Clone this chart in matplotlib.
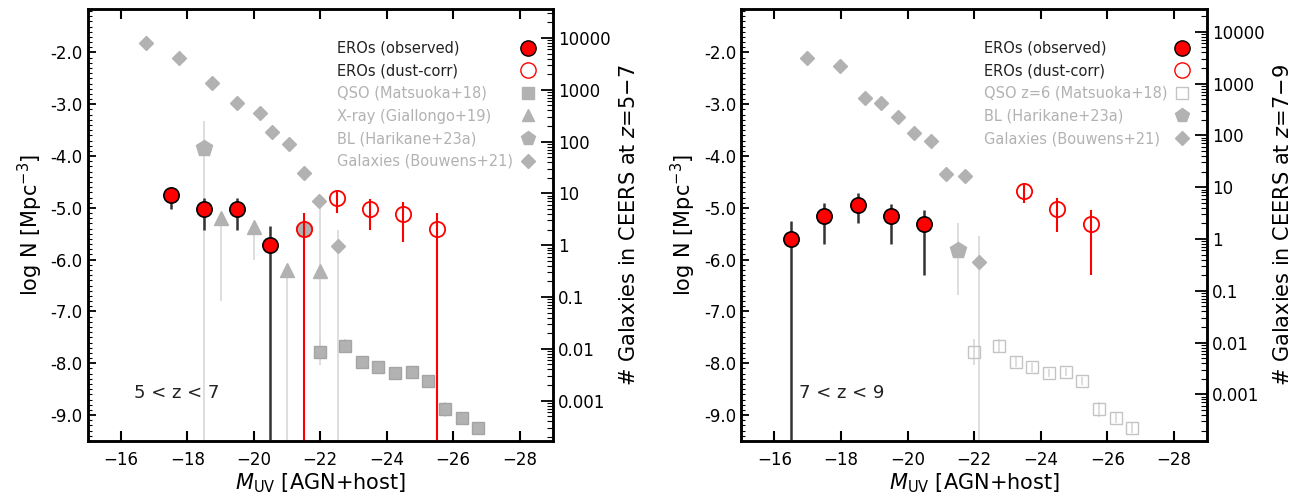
import numpy as np
import matplotlib
matplotlib.use("Agg")
import matplotlib.pyplot as plt
from matplotlib.lines import Line2D
from matplotlib.ticker import MultipleLocator, FormatStrFormatter, FuncFormatter, LogLocator

# EROs at 5<z<7: observed and dust-corrected (y = log N, lo/hi = error-bar ends)
obs5_x = [-17.5, -18.5, -19.5, -20.5]
obs5_y = [-4.75, -5.02, -5.02, -5.72]
obs5_lo = [-5.02, -5.42, -5.42, -10.0]
obs5_hi = [-4.62, -4.81, -4.81, -5.35]

dust5_x = [-21.5, -22.5, -23.5, -24.5, -25.5]
dust5_y = [-5.41, -4.80, -5.02, -5.11, -5.41]
dust5_lo = [-10.0, -5.10, -5.42, -5.65, -10.0]
dust5_hi = [-5.10, -4.65, -4.83, -4.89, -5.10]

# literature at 5<z<7
xray5_x = [-19.0, -20.0, -21.0, -22.0]
xray5_y = [-5.20, -5.37, -6.20, -6.22]
xray5_lo = [-6.80, -6.00, -10.0, -7.70]
xray5_hi = [-5.20, -5.37, -6.20, -4.95]

bl5_x = [-18.5, -21.5]
bl5_y = [-3.84, -5.41]
bl5_lo = [-10.0, -5.41]
bl5_hi = [-3.32, -5.41]

gal5_x = [-16.75, -17.75, -18.75, -19.5, -20.2, -20.55, -21.05, -21.5, -21.95, -22.52]
gal5_y = [-1.81, -2.10, -2.58, -2.98, -3.17, -3.53, -3.77, -4.32, -4.87, -5.73]
gal5_lo = [-1.81, -2.10, -2.58, -2.98, -3.17, -3.53, -3.77, -4.32, -4.87, -10.0]
gal5_hi = [-1.81, -2.10, -2.58, -2.98, -3.17, -3.53, -3.77, -4.32, -4.87, -5.42]

# Matsuoka+18 z~6 quasars (same in both panels)
qso_x = [-22.0, -22.75, -23.25, -23.75, -24.25, -24.75, -25.25, -25.75, -26.25, -26.75]
qso_y = [-7.79, -7.66, -7.97, -8.08, -8.19, -8.17, -8.34, -8.89, -9.06, -9.24]
qso_err = [0.25, 0.12, 0.10, 0.08, 0.08, 0.08, 0.08, 0.15, 0.10, 0.10]

# EROs at 7<z<9
obs7_x = [-16.5, -17.5, -18.5, -19.5, -20.5]
obs7_y = [-5.60, -5.16, -4.94, -5.16, -5.31]
obs7_lo = [-10.0, -5.69, -5.29, -5.70, -6.30]
obs7_hi = [-5.26, -4.90, -4.71, -4.92, -5.05]

dust7_x = [-23.5, -24.5, -25.5]
dust7_y = [-4.67, -5.02, -5.31]
dust7_lo = [-4.91, -5.46, -6.30]
dust7_hi = [-4.53, -4.81, -5.04]

bl7_x = [-21.5]
bl7_y = [-5.81]
bl7_lo = [-6.68]
bl7_hi = [-5.29]

gal7_x = [-16.98, -17.96, -18.71, -19.21, -19.71, -20.19, -20.71, -21.16, -21.71, -22.15]
gal7_y = [-2.10, -2.27, -2.87, -2.97, -3.24, -3.56, -3.71, -4.34, -4.39, -6.04]
gal7_lo = [-2.10, -2.27, -2.87, -2.97, -3.24, -3.56, -3.71, -4.34, -4.39, -10.0]
gal7_hi = [-2.10, -2.27, -2.87, -2.97, -3.24, -3.56, -3.71, -4.34, -4.39, -5.55]

# log of survey volume (Mpc^3) linking log N to galaxy counts
logvol5 = 5.72
logvol7 = 5.60

RED = "#ff0000"
GRAY = "#b2b2b2"
ERRGRAY = "#d8d8d8"
YLIM = (-9.5, -1.16)
XLIM = (-15, -29)


def yerr(y, lo, hi):
    y = np.array(y)
    return [y - np.array(lo), np.array(hi) - y]


def style_axes(ax, logvol, zlabel):
    ax.set_xlim(XLIM)
    ax.set_ylim(YLIM)
    ax.xaxis.set_major_locator(MultipleLocator(2))
    ax.yaxis.set_major_locator(MultipleLocator(1))
    ax.yaxis.set_minor_locator(MultipleLocator(0.1))
    ax.yaxis.set_major_formatter(FormatStrFormatter("%.1f"))
    ax.tick_params(axis="x", which="major", direction="in", top=True, length=7, width=1.5, labelsize=12, pad=7)
    ax.tick_params(axis="y", which="major", direction="in", right=False, length=6, width=1.3, labelsize=12)
    ax.tick_params(axis="y", which="minor", direction="in", right=False, length=3, width=0.8)
    for s in ax.spines.values():
        s.set_linewidth(1.8)
    ax.set_xlabel(r"$M_{\rm UV}$ [AGN+host]", fontsize=15, labelpad=2)
    ax.set_ylabel(r"log N [Mpc$^{-3}$]", fontsize=15)
    ax.xaxis.offsetText.set_visible(False)

    ax2 = ax.twinx()
    ax2.set_yscale("log")
    ax2.set_ylim(10 ** (YLIM[0] + logvol), 10 ** (YLIM[1] + logvol))
    ax2.yaxis.set_major_locator(LogLocator(base=10, numticks=20))
    ax2.yaxis.set_minor_locator(LogLocator(base=10, subs=np.arange(2, 10), numticks=20))
    ax2.yaxis.set_major_formatter(FuncFormatter(lambda v, p: "%g" % v))
    ax2.tick_params(axis="y", which="major", direction="in", length=9, width=1.3, labelsize=12)
    ax2.tick_params(axis="y", which="minor", direction="in", length=4, width=0.8)
    ax2.set_ylabel(r"# Galaxies in CEERS at $z$=" + zlabel, fontsize=15, labelpad=6)
    ax2.xaxis.offsetText.set_visible(False)
    for s in ax2.spines.values():
        s.set_linewidth(1.8)
    return ax2


def gray_err(ax, x, y, lo, hi, marker, ms, face=GRAY, edge=GRAY):
    ax.errorbar(x, y, yerr=yerr(y, lo, hi), fmt=marker, ms=ms, mfc=face, mec=edge,
                ecolor=ERRGRAY, elinewidth=1.2, capsize=0, zorder=2)


def ero_points(ax, ox, oy, olo, ohi, dx, dy, dlo, dhi):
    ax.errorbar(dx, dy, yerr=yerr(dy, dlo, dhi), fmt="o", ms=11, mfc="none", mec=RED, mew=1.3,
                ecolor=RED, elinewidth=1.5, capsize=0, zorder=5)
    ax.errorbar(ox, oy, yerr=yerr(oy, olo, ohi), fmt="o", ms=11, mfc=RED, mec="black", mew=1.2,
                ecolor="#333333", elinewidth=1.8, capsize=0, zorder=6)


def add_legend(ax, handles, labels, ngood):
    leg = ax.legend(handles, labels, loc="upper right", bbox_to_anchor=(0.983, 0.95), frameon=False,
                    markerfirst=False, fontsize=10.5, handlelength=1.0, handletextpad=0.5,
                    labelspacing=0.52, borderaxespad=0.3)
    for i, t in enumerate(leg.get_texts()):
        t.set_color("#222222" if i < ngood else GRAY)
    return leg


def align_legend(leg, renderer):
    # labels flush left, markers stacked in one column at the right
    rows = [row for col in leg._legend_handle_box.get_children() for row in col.get_children()]
    wmax = max(row.get_bbox(renderer).width for row in rows)
    for row in rows:
        row.mode = "expand"
        row.width = wmax


fig = plt.figure(figsize=(12.99, 4.97), dpi=100)
ax1 = fig.add_axes([0.0674, 0.1127, 0.3583, 0.8693])
ax3 = fig.add_axes([0.5704, 0.1127, 0.3591, 0.8693])

# left panel: 5 < z < 7
gray_err(ax1, qso_x, qso_y, np.array(qso_y) - np.array(qso_err), np.array(qso_y) + np.array(qso_err), "s", 8.5,
         edge="#a4a4a4")
gray_err(ax1, xray5_x, xray5_y, xray5_lo, xray5_hi, "^", 10)
gray_err(ax1, bl5_x, bl5_y, bl5_lo, bl5_hi, "p", 12)
gray_err(ax1, gal5_x, gal5_y, gal5_lo, gal5_hi, "D", 7.5)
ero_points(ax1, obs5_x, obs5_y, obs5_lo, obs5_hi, dust5_x, dust5_y, dust5_lo, dust5_hi)
ax1.text(-16.4, -8.57, "5 < z < 7", fontsize=13, ha="left", va="center", color="#222222")
style_axes(ax1, logvol5, r"5$-$7")

h5 = [Line2D([], [], ls="none", marker="o", ms=11, mfc=RED, mec="black"),
      Line2D([], [], ls="none", marker="o", ms=11, mfc="none", mec=RED),
      Line2D([], [], ls="none", marker="s", ms=8, mfc=GRAY, mec=GRAY),
      Line2D([], [], ls="none", marker="^", ms=9, mfc=GRAY, mec=GRAY),
      Line2D([], [], ls="none", marker="p", ms=10, mfc=GRAY, mec=GRAY),
      Line2D([], [], ls="none", marker="D", ms=7, mfc=GRAY, mec=GRAY)]
l5 = ["EROs (observed)", "EROs (dust-corr)", "QSO (Matsuoka+18)", "X-ray (Giallongo+19)",
      "BL (Harikane+23a)", "Galaxies (Bouwens+21)"]
leg5 = add_legend(ax1, h5, l5, 2)

# right panel: 7 < z < 9
gray_err(ax3, qso_x, qso_y, np.array(qso_y) - np.array(qso_err), np.array(qso_y) + np.array(qso_err), "s", 9,
         face="none", edge="#c4c4c4")
gray_err(ax3, bl7_x, bl7_y, bl7_lo, bl7_hi, "p", 12)
gray_err(ax3, gal7_x, gal7_y, gal7_lo, gal7_hi, "D", 7.5)
ero_points(ax3, obs7_x, obs7_y, obs7_lo, obs7_hi, dust7_x, dust7_y, dust7_lo, dust7_hi)
ax3.text(-16.75, -8.57, "7 < z < 9", fontsize=13, ha="left", va="center", color="#222222")
style_axes(ax3, logvol7, r"7$-$9")

h7 = [Line2D([], [], ls="none", marker="o", ms=11, mfc=RED, mec="black"),
      Line2D([], [], ls="none", marker="o", ms=11, mfc="none", mec=RED),
      Line2D([], [], ls="none", marker="s", ms=8, mfc="none", mec="#c4c4c4"),
      Line2D([], [], ls="none", marker="p", ms=10, mfc=GRAY, mec=GRAY),
      Line2D([], [], ls="none", marker="D", ms=7, mfc=GRAY, mec=GRAY)]
l7 = ["EROs (observed)", "EROs (dust-corr)", "QSO z=6 (Matsuoka+18)", "BL (Harikane+23a)",
      "Galaxies (Bouwens+21)"]
leg7 = add_legend(ax3, h7, l7, 2)

fig.canvas.draw()
renderer = fig.canvas.get_renderer()
align_legend(leg5, renderer)
align_legend(leg7, renderer)

fig.savefig("out.png", dpi=100)
